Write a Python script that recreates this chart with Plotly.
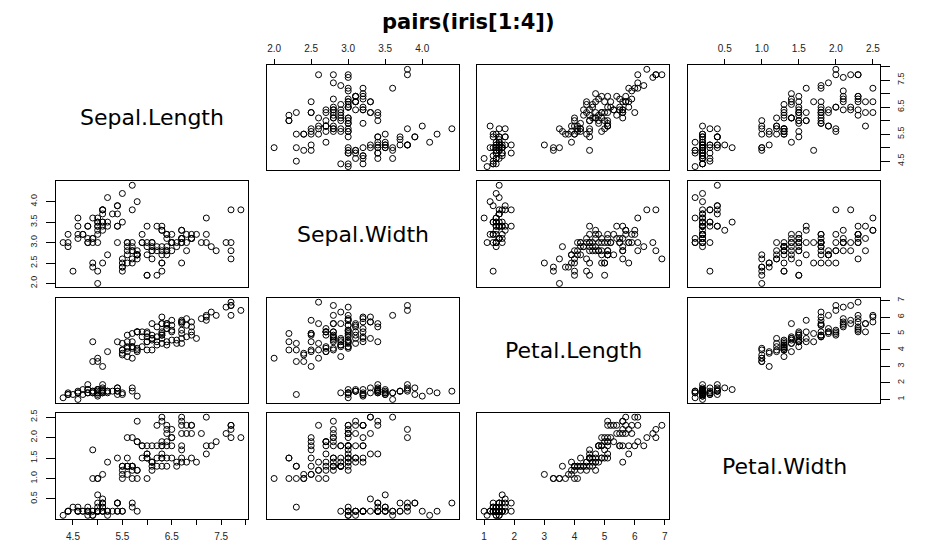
import plotly.graph_objects as go

W, H = 928, 547

sepal_length = [5.1,4.9,4.7,4.6,5.0,5.4,4.6,5.0,4.4,4.9,5.4,4.8,4.8,4.3,5.8,5.7,5.4,5.1,5.7,5.1,
                5.4,5.1,4.6,5.1,4.8,5.0,5.0,5.2,5.2,4.7,4.8,5.4,5.2,5.5,4.9,5.0,5.5,4.9,4.4,5.1,
                5.0,4.5,4.4,5.0,5.1,4.8,5.1,4.6,5.3,5.0,
                7.0,6.4,6.9,5.5,6.5,5.7,6.3,4.9,6.6,5.2,5.0,5.9,6.0,6.1,5.6,6.7,5.6,5.8,6.2,5.6,
                5.9,6.1,6.3,6.1,6.4,6.6,6.8,6.7,6.0,5.7,5.5,5.5,5.8,6.0,5.4,6.0,6.7,6.3,5.6,5.5,
                5.5,6.1,5.8,5.0,5.6,5.7,5.7,6.2,5.1,5.7,
                6.3,5.8,7.1,6.3,6.5,7.6,4.9,7.3,6.7,7.2,6.5,6.4,6.8,5.7,5.8,6.4,6.5,7.7,7.7,6.0,
                6.9,5.6,7.7,6.3,6.7,7.2,6.2,6.1,6.4,7.2,7.4,7.9,6.4,6.3,6.1,7.7,6.3,6.4,6.0,6.9,
                6.7,6.9,5.8,6.8,6.7,6.7,6.3,6.5,6.2,5.9]
sepal_width = [3.5,3.0,3.2,3.1,3.6,3.9,3.4,3.4,2.9,3.1,3.7,3.4,3.0,3.0,4.0,4.4,3.9,3.5,3.8,3.8,
               3.4,3.7,3.6,3.3,3.4,3.0,3.4,3.5,3.4,3.2,3.1,3.4,4.1,4.2,3.1,3.2,3.5,3.6,3.0,3.4,
               3.5,2.3,3.2,3.5,3.8,3.0,3.8,3.2,3.7,3.3,
               3.2,3.2,3.1,2.3,2.8,2.8,3.3,2.4,2.9,2.7,2.0,3.0,2.2,2.9,2.9,3.1,3.0,2.7,2.2,2.5,
               3.2,2.8,2.5,2.8,2.9,3.0,2.8,3.0,2.9,2.6,2.4,2.4,2.7,2.7,3.0,3.4,3.1,2.3,3.0,2.5,
               2.6,3.0,2.6,2.3,2.7,3.0,2.9,2.9,2.5,2.8,
               3.3,2.7,3.0,2.9,3.0,3.0,2.5,2.9,2.5,3.6,3.2,2.7,3.0,2.5,2.8,3.2,3.0,3.8,2.6,2.2,
               3.2,2.8,2.8,2.7,3.3,3.2,2.8,3.0,2.8,3.0,2.8,3.8,2.8,2.8,2.6,3.0,3.4,3.1,3.0,3.1,
               3.1,3.1,2.7,3.2,3.3,3.0,2.5,3.0,3.4,3.0]
petal_length = [1.4,1.4,1.3,1.5,1.4,1.7,1.4,1.5,1.4,1.5,1.5,1.6,1.4,1.1,1.2,1.5,1.3,1.4,1.7,1.5,
                1.7,1.5,1.0,1.7,1.9,1.6,1.6,1.5,1.4,1.6,1.6,1.5,1.5,1.4,1.5,1.2,1.3,1.4,1.3,1.5,
                1.3,1.3,1.3,1.6,1.9,1.4,1.6,1.4,1.5,1.4,
                4.7,4.5,4.9,4.0,4.6,4.5,4.7,3.3,4.6,3.9,3.5,4.2,4.0,4.7,3.6,4.4,4.5,4.1,4.5,3.9,
                4.8,4.0,4.9,4.7,4.3,4.4,4.8,5.0,4.5,3.5,3.8,3.7,3.9,5.1,4.5,4.5,4.7,4.4,4.1,4.0,
                4.4,4.6,4.0,3.3,4.2,4.2,4.2,4.3,3.0,4.1,
                6.0,5.1,5.9,5.6,5.8,6.6,4.5,6.3,5.8,6.1,5.1,5.3,5.5,5.0,5.1,5.3,5.5,6.7,6.9,5.0,
                5.7,4.9,6.7,4.9,5.7,6.0,4.8,4.9,5.6,5.8,6.1,6.4,5.6,5.1,5.6,6.1,5.6,5.5,4.8,5.4,
                5.6,5.1,5.1,5.9,5.7,5.2,5.0,5.2,5.4,5.1]
petal_width = [0.2,0.2,0.2,0.2,0.2,0.4,0.3,0.2,0.2,0.1,0.2,0.2,0.1,0.1,0.2,0.4,0.4,0.3,0.3,0.3,
               0.2,0.4,0.2,0.5,0.2,0.2,0.4,0.2,0.2,0.2,0.2,0.4,0.1,0.2,0.2,0.2,0.2,0.1,0.2,0.2,
               0.3,0.3,0.2,0.6,0.4,0.3,0.2,0.2,0.2,0.2,
               1.4,1.5,1.5,1.3,1.5,1.3,1.6,1.0,1.3,1.4,1.0,1.5,1.0,1.4,1.3,1.4,1.5,1.0,1.5,1.1,
               1.8,1.3,1.5,1.2,1.3,1.4,1.4,1.7,1.5,1.0,1.1,1.0,1.2,1.6,1.5,1.6,1.5,1.3,1.3,1.3,
               1.2,1.4,1.2,1.0,1.3,1.2,1.3,1.3,1.1,1.3,
               2.5,1.9,2.1,1.8,2.2,2.1,1.7,1.8,1.8,2.5,2.0,1.9,2.1,2.0,2.4,2.3,1.8,2.2,2.3,1.5,
               2.3,2.0,2.0,1.8,2.1,1.8,1.8,1.8,2.1,1.6,1.9,2.0,2.2,1.5,1.4,2.3,2.4,1.8,1.8,2.1,
               2.4,2.3,1.9,2.3,2.5,2.3,1.9,2.0,2.3,1.8]

var_names = ["Sepal.Length", "Sepal.Width", "Petal.Length", "Petal.Width"]
var_data = [sepal_length, sepal_width, petal_length, petal_width]
tick_vals = [[4.5, 5.0, 5.5, 6.0, 6.5, 7.0, 7.5, 8.0],
             [2.0, 2.5, 3.0, 3.5, 4.0],
             [1, 2, 3, 4, 5, 6, 7],
             [0.5, 1.0, 1.5, 2.0, 2.5]]
tick_text = [["4.5", "", "5.5", "", "6.5", "", "7.5", ""],
             ["2.0", "2.5", "3.0", "3.5", "4.0"],
             ["1", "2", "3", "4", "5", "6", "7"],
             ["0.5", "1.0", "1.5", "2.0", "2.5"]]
title_text = "pairs(iris[1:4])"

# panel pixel boxes
col_px = [(56, 248), (267, 459), (477, 669), (688, 880)]
row_px = [(62, 168), (179, 286), (297, 403), (413, 520)]


def pad_range(v):
    lo, hi = min(v), max(v)
    d = (hi - lo) * 0.04
    return [lo - d, hi + d]


ranges = [pad_range(v) for v in var_data]

fig = go.Figure()
layout = dict(
    width=W, height=H, margin=dict(l=0, r=0, t=0, b=0),
    paper_bgcolor="white", plot_bgcolor="white", showlegend=False,
    font=dict(family="Liberation Sans, Arial, sans-serif", color="black"),
)
annotations = []
tick_font_x = dict(family="Liberation Sans, Arial, sans-serif", size=10, color="#222")
tick_font_y = dict(family="Liberation Sans, Arial, sans-serif", size=9, color="#222")

for i in range(4):
    for j in range(4):
        k = i * 4 + j + 1
        xa = "x" if k == 1 else f"x{k}"
        ya = "y" if k == 1 else f"y{k}"
        xname = "xaxis" if k == 1 else f"xaxis{k}"
        yname = "yaxis" if k == 1 else f"yaxis{k}"
        x0, x1 = col_px[j]
        y0, y1 = row_px[i]
        xdom = [x0 / W, x1 / W]
        ydom = [1 - y1 / H, 1 - y0 / H]
        xax = dict(domain=xdom, anchor=ya, showgrid=False, zeroline=False,
                   showline=True, mirror=True, linecolor="black", linewidth=1,
                   fixedrange=True)
        yax = dict(domain=ydom, anchor=xa, showgrid=False, zeroline=False,
                   showline=True, mirror=True, linecolor="black", linewidth=1,
                   fixedrange=True)
        if i == j:
            xax.update(range=[0, 1], showticklabels=False, ticks="")
            yax.update(range=[0, 1], showticklabels=False, ticks="")
            annotations.append(dict(
                x=(x0 + x1) / 2 / W, y=1 - (y0 + y1) / 2 / H, xref="paper", yref="paper",
                text=var_names[i], showarrow=False,
                font=dict(family="DejaVu Sans, sans-serif", size=22, color="black"),
                xanchor="center", yanchor="middle"))
        else:
            xax.update(range=ranges[j])
            yax.update(range=ranges[i])
            fig.add_trace(go.Scatter(
                x=var_data[j], y=var_data[i], mode="markers", xaxis=xa, yaxis=ya,
                marker=dict(symbol="circle-open", size=6, color="black",
                            line=dict(width=1, color="black")),
                hoverinfo="skip"))
        # x axis ticks
        xside = None
        if i == 0 and j % 2 == 1:
            xside = "top"
        elif i == 3 and j % 2 == 0:
            xside = "bottom"
        if xside:
            xax.update(side=xside, ticks="outside", ticklen=5, tickwidth=1,
                       tickcolor="black", tickvals=tick_vals[j], ticktext=tick_text[j],
                       showticklabels=True, tickfont=tick_font_x, ticklabelstandoff=3)
        else:
            xax.update(ticks="", showticklabels=False)
        yside = None
        if j == 0 and i % 2 == 1:
            yside = "left"
        elif j == 3 and i % 2 == 0:
            yside = "right"
        if yside:
            yax.update(side=yside, ticks="outside", ticklen=9, tickwidth=1,
                       tickcolor="black", tickvals=tick_vals[i], ticktext=tick_text[i],
                       showticklabels=True, tickfont=tick_font_y, tickangle=-90,
                       ticklabelstandoff=5 if yside == "left" else 3)
        else:
            yax.update(ticks="", showticklabels=False)
        layout[xname] = xax
        layout[yname] = yax

annotations.append(dict(
    x=468 / W, y=1 - 18 / H, xref="paper", yref="paper", text=f"<b>{title_text}</b>",
    showarrow=False, font=dict(family="DejaVu Sans, sans-serif", size=21, color="black"),
    xanchor="center", yanchor="middle"))
layout["annotations"] = annotations
fig.update_layout(**layout)
fig.write_html("out.html")
